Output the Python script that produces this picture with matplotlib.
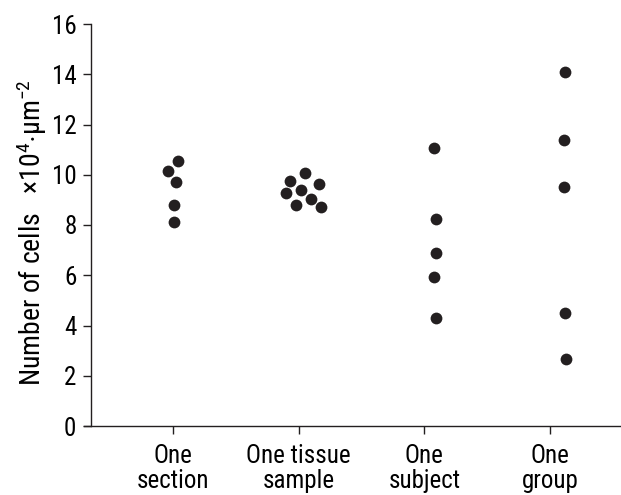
import matplotlib
matplotlib.use("Agg")
import matplotlib.pyplot as plt

fam = "Roboto Condensed"
plt.rcParams["font.family"] = [fam, "DejaVu Sans"]
plt.rcParams["mathtext.fontset"] = "custom"
plt.rcParams["mathtext.rm"] = fam
plt.rcParams["mathtext.it"] = fam
plt.rcParams["mathtext.bf"] = fam

categories = ["One\nsection", "One tissue\nsample", "One\nsubject", "One\ngroup"]

# values (x10^4 cells per um^2) and horizontal jitter (category units)
section_vals = [10.55, 10.15, 9.7, 8.8, 8.1]
section_jit = [0.04, -0.04, 0.025, 0.01, 0.01]
tissue_vals = [10.07, 9.75, 9.65, 9.4, 9.28, 9.02, 8.78, 8.72]
tissue_jit = [0.05, -0.07, 0.16, 0.02, -0.10, 0.10, -0.02, 0.18]
subject_vals = [11.05, 8.25, 6.9, 5.95, 4.3]
subject_jit = [0.08, 0.09, 0.09, 0.08, 0.09]
group_vals = [14.1, 11.38, 9.5, 4.5, 2.65]
group_jit = [0.12, 0.11, 0.11, 0.12, 0.13]

series = [(section_vals, section_jit), (tissue_vals, tissue_jit),
          (subject_vals, subject_jit), (group_vals, group_jit)]

yticks = [0, 2, 4, 6, 8, 10, 12, 14, 16]

fig = plt.figure(figsize=(6.21, 4.95), dpi=100)
ax = fig.add_axes([84 / 621, (495 - 426) / 495, 537 / 621, (426 - 24) / 495])

for i, (vals, jit) in enumerate(series):
    ax.scatter([i + j for j in jit], vals, s=72, color="#231f20", linewidths=0, zorder=3)

ax.set_xlim(-0.708, 3.565)
ax.set_ylim(0, 16)
ax.set_yticks(yticks)
ax.set_xticks(range(len(categories)))
ax.set_xticklabels(categories, fontsize=18, linespacing=1.05)
ax.tick_params(axis="y", labelsize=18, length=5.5, width=1, pad=5, color="#231f20")
ax.tick_params(axis="x", length=6, width=1, pad=7, color="#231f20")

for s in ["top", "right"]:
    ax.spines[s].set_visible(False)
ax.spines["left"].set_position(("axes", 7 / 537))
for s in ["left", "bottom"]:
    ax.spines[s].set_linewidth(1)
    ax.spines[s].set_color("#231f20")

ax.set_ylabel("Number of cells   $\\times$10$^{4}$$\\cdot$\u00b5m$^{-2}$", fontsize=20)
ax.yaxis.set_label_coords(-0.065, 0.48)

fig.savefig("out.png", dpi=100)
